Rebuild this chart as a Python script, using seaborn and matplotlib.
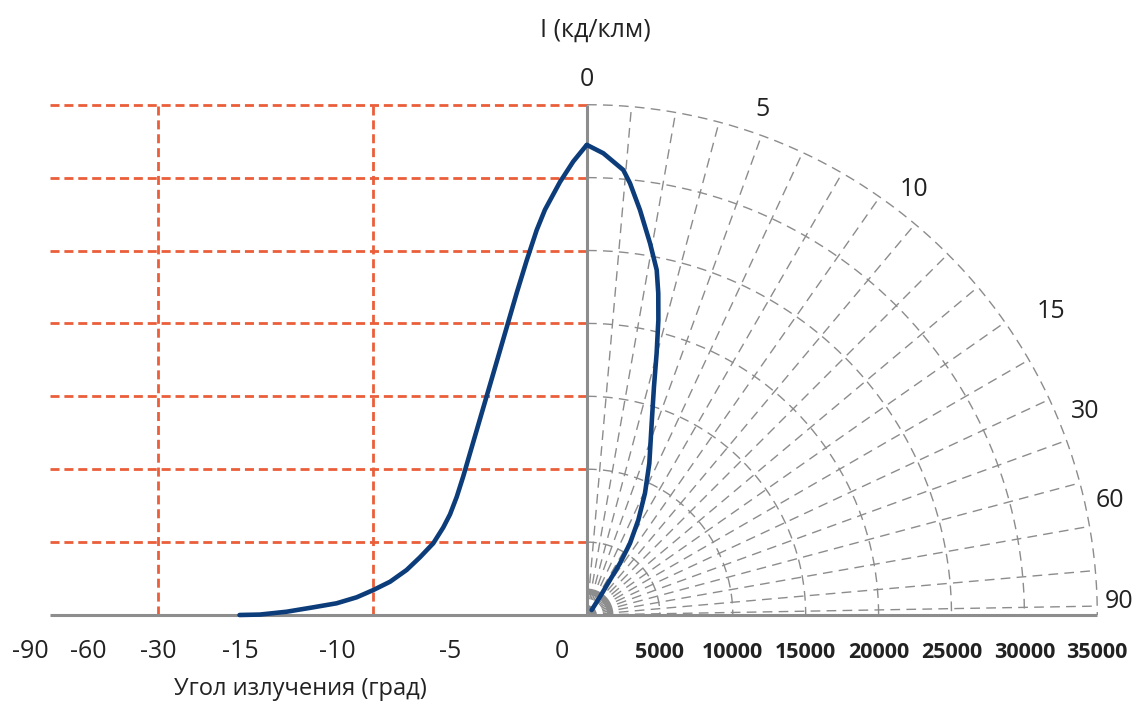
import numpy as np
import pandas as pd
import matplotlib
matplotlib.use("Agg")
import matplotlib.pyplot as plt
import seaborn as sns

# ---------------- data ----------------
# left (cartesian) part: angle (deg) vs intensity (cd/klm)
left_angle = [-15.09, -13.97, -12.59, -11.22, -10.02, -9.13, -8.39, -7.65,
              -6.92, -6.33, -5.74, -5.30, -5.0, -4.70, -4.41, -4.03, -3.66,
              -3.07, -2.54, -2.02, -1.58, -1.13, -0.76, -0.09, 0.50, 1.03, 1.1]
left_intensity = [0, 30, 226, 528, 803, 1214, 1715, 2284,
                  3087, 3957, 4918, 6000, 6900, 8100, 9500, 11500, 13450,
                  16550, 19350, 22100, 24300, 26400, 27800, 29700, 31100, 32100, 32240]

# right (polar) part: angle (deg) vs intensity (cd/klm)
polar_angle = [0, 0.53, 1.22, 1.49, 1.95, 2.52, 2.99, 3.27, 3.56, 3.90,
               4.28, 4.88, 5.88, 6.73, 7.52, 8.22, 8.65, 8.86, 9.43, 11.48]
polar_intensity = [32240, 31690, 30625, 29757, 28018, 25860, 24143, 22601,
                   20817, 18575, 16318, 13876, 11249, 9246, 7407, 5734, 4205,
                   2872, 1538, 470]

left_tick_labels = [-90, -60, -30, -15, -10, -5, 0]
intensity_ticks = [5000, 10000, 15000, 20000, 25000, 30000, 35000]
polar_tick_labels = [0, 5, 10, 15, 30, 60, 90]
marked_angles = [-30, -8.4]

# ---------------- layout ----------------
K = 5000 / 72.9          # data units per pixel
CX, CY = 587, 615        # pixel position of the origin
def px_x(p): return (p - CX) * K
def px_y(p): return (CY - p) * K

left_tick_px = [30, 88, 158, 240, 337, 450, 562]
left_tick_pos = [px_x(p) for p in left_tick_px]
slope_end = (left_tick_pos[-1] - left_tick_pos[-2]) / 5.0

def left_x(a):
    a = np.asarray(a, dtype=float)
    x = np.interp(a, left_tick_labels, left_tick_pos)
    return np.where(a > 0, left_tick_pos[-1] + a * slope_end, x)

polar_disp = [0, 19.1, 37.5, 56.8, 67.8, 77.6, 88.6]   # display angle of each label
def disp_angle(a):
    return np.interp(a, polar_tick_labels, polar_disp)

RMAX = intensity_ticks[-1]

BLUE = "#0c3d7a"
ORANGE = "#ea5f3a"
GRID = "#8c8c8c"
AXIS = "#8d8d8d"
TEXT = "#222222"

sns.set_theme(style="white")
plt.rcParams["font.family"] = ["Open Sans", "DejaVu Sans"]
plt.rcParams["lines.scale_dashes"] = False

fig = plt.figure(figsize=(11.44, 7.2), dpi=100)
ax = fig.add_axes([0, 0, 1, 1])
ax.set_xlim(px_x(0), px_x(1144))
ax.set_ylim(px_y(720), px_y(0))

# polar grid: arcs
th = np.radians(np.linspace(0, 90, 200))
for r in intensity_ticks:
    ax.plot(r * np.sin(th), r * np.cos(th), color=GRID, lw=1.0,
            ls=(0, (7, 4.5)), zorder=1)
# spokes
for d in list(range(5, 90, 5)) + [89]:
    t = np.radians(d)
    ax.plot([0, RMAX * np.sin(t)], [0, RMAX * np.cos(t)], color=GRID, lw=1.0,
            ls=(0, (7, 4.5)), zorder=1)
# small thick arc near origin
rs = 1600
ax.plot(rs * np.sin(th), rs * np.cos(th), color=AXIS, lw=4.5, zorder=2,
        solid_capstyle="butt")

# orange reference lines (left part)
x_left_end = px_x(50)
for r in intensity_ticks:
    ax.plot([x_left_end, 0], [r, r], color=ORANGE, lw=2.0,
            ls=(0, (6.5, 3.5)), zorder=1)
for a in marked_angles:
    xv = float(left_x(a))
    ax.plot([xv, xv], [0, RMAX], color=ORANGE, lw=2.0,
            ls=(0, (6.5, 3.5)), zorder=1)

# axes lines
ax.plot([x_left_end, RMAX], [0, 0], color=AXIS, lw=2.2, zorder=3,
        solid_capstyle="butt")
ax.plot([0, 0], [0, RMAX], color=AXIS, lw=2.2, zorder=3,
        solid_capstyle="butt")

# curves
left_df = pd.DataFrame({"x": left_x(left_angle), "y": left_intensity})
sns.lineplot(data=left_df, x="x", y="y", sort=False, color=BLUE, lw=3.3,
             ax=ax, zorder=5, estimator=None)
pt = np.radians(disp_angle(polar_angle))
pr = np.asarray(polar_intensity, dtype=float)
polar_df = pd.DataFrame({"x": pr * np.sin(pt), "y": pr * np.cos(pt)})
sns.lineplot(data=polar_df, x="x", y="y", sort=False, color=BLUE, lw=3.3,
             ax=ax, zorder=5, estimator=None)
for ln in ax.lines[-2:]:
    ln.set_solid_joinstyle("round")
    ln.set_solid_capstyle("round")
ax.set_xlabel("")
ax.set_ylabel("")
ax.set_xlim(px_x(0), px_x(1144))
ax.set_ylim(px_y(720), px_y(0))
ax.axis("off")

# tick labels
ty = px_y(652)
for lab, pos in zip(left_tick_labels, left_tick_pos):
    ax.text(pos, ty, str(lab), ha="center", va="center", fontsize=18,
            color=TEXT)
for v in intensity_ticks:
    ax.text(v, ty, str(v), ha="center", va="center", fontsize=15.5,
            fontweight="bold", color=TEXT)

label_r = [36700, 36700, 36800, 38000, 36900, 36700, 36500]
for lab, d, r in zip(polar_tick_labels, polar_disp, label_r):
    t = np.radians(d)
    ax.text(r * np.sin(t), r * np.cos(t), str(lab), ha="center", va="center",
            fontsize=18, color=TEXT)

ax.text(px_x(595), px_y(30), "I (кд/клм)", ha="center", va="center",
        fontsize=18, color=TEXT)
ax.text(px_x(300), px_y(689), "Угол излучения (град)", ha="center",
        va="center", fontsize=17, color=TEXT)

fig.savefig("out.png", dpi=100, facecolor="white")
